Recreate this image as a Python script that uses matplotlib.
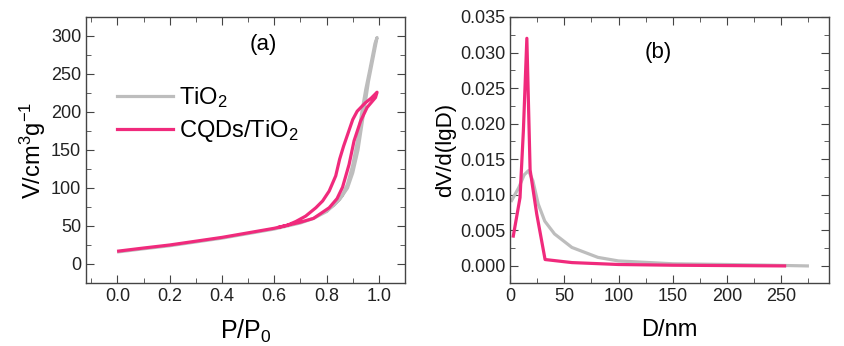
import matplotlib
matplotlib.use('Agg')
import matplotlib.pyplot as plt
from matplotlib.ticker import MultipleLocator

plt.rcParams['font.family'] = ['Liberation Sans', 'DejaVu Sans']
plt.rcParams['mathtext.fontset'] = 'custom'
plt.rcParams['mathtext.rm'] = 'Liberation Sans'
plt.rcParams['mathtext.it'] = 'Liberation Sans:italic'

# (a) N2 isotherms: adsorption branch then desorption branch
tio2_p = [0.005, 0.1, 0.2, 0.3, 0.4, 0.5, 0.6, 0.7, 0.75, 0.8, 0.85, 0.88, 0.9, 0.92, 0.94, 0.96, 0.98, 0.993,
          0.985, 0.965, 0.95, 0.935, 0.92, 0.9, 0.88, 0.86, 0.83, 0.8]
tio2_v = [16, 20, 24, 29, 34, 40, 46, 54, 60, 69, 85, 100, 120, 150, 195, 240, 275, 298,
          290, 255, 230, 200, 165, 130, 105, 90, 78, 70]
cqd_p = [0.005, 0.1, 0.2, 0.3, 0.4, 0.5, 0.6, 0.7, 0.75, 0.81, 0.84, 0.861, 0.886, 0.905, 0.93, 0.955, 0.987, 0.993,
         0.97, 0.948, 0.917, 0.9, 0.88, 0.865, 0.85, 0.835, 0.81, 0.785, 0.759, 0.72, 0.683, 0.65, 0.62]
cqd_v = [17, 21, 25, 30, 35, 41, 47, 55, 60, 74, 86, 101, 131, 162, 188, 206, 219, 226,
         218, 212, 201, 190, 170, 155, 138, 116, 96, 83, 74, 63, 56, 51, 48.5]

# (b) pore size distribution
tio2_d = [1.5, 8, 13, 17, 21, 26, 32, 41, 57, 81, 100, 150, 200, 240, 274]
tio2_dv = [0.0092, 0.0110, 0.0128, 0.0134, 0.0120, 0.0087, 0.0063, 0.0045, 0.0026, 0.0012, 0.0007,
           0.0003, 0.0002, 0.0001, 0.0]
cqd_d = [3, 9.2, 12.3, 15.5, 18.5, 24.6, 32.3, 57, 100, 150, 200, 253]
cqd_dv = [0.0042, 0.0096, 0.0190, 0.0320, 0.0135, 0.0073, 0.0009, 0.00047, 0.0002, 0.0001, 0.00005, 0.0]

gray = '#bdbdbd'
pink = '#f02a7c'


def style(ax):
    for s in ax.spines.values():
        s.set_color('#444444')
        s.set_linewidth(1.0)
    ax.tick_params(which='both', direction='in', top=True, right=True, colors='#444444',
                   labelcolor='#222222', labelsize=13)
    ax.tick_params(which='major', length=6)
    ax.tick_params(which='minor', length=3.5)


fig = plt.figure(figsize=(8.44, 3.46), dpi=100)
ax1 = fig.add_axes([0.1019, 0.1821, 0.378, 0.7688])
ax2 = fig.add_axes([0.6043, 0.1821, 0.378, 0.7688])

ax1.plot(tio2_p, tio2_v, color=gray, lw=2.3, label='TiO$_2$')
ax1.plot(cqd_p, cqd_v, color=pink, lw=2.3, label='CQDs/TiO$_2$')
ax1.set_xlim(-0.12, 1.1)
ax1.set_ylim(-25, 325)
ax1.xaxis.set_minor_locator(MultipleLocator(0.1))
ax1.yaxis.set_minor_locator(MultipleLocator(25))
ax1.set_xticks([0.0, 0.2, 0.4, 0.6, 0.8, 1.0])
ax1.set_xticklabels(['0.0', '0.2', '0.4', '0.6', '0.8', '1.0'])
ax1.set_yticks([0, 50, 100, 150, 200, 250, 300])
style(ax1)
ax1.set_xlabel('P/P$_0$', fontsize=18, labelpad=9)
ax1.set_ylabel('V/cm$^3$g$^{-1}$', fontsize=17, labelpad=2)
ax1.text(0.555, 0.895, '(a)', transform=ax1.transAxes, fontsize=16, ha='center', va='center')
ax1.legend(loc='upper left', bbox_to_anchor=(0.03, 0.825), frameon=False, fontsize=17,
           handlelength=2.4, handletextpad=0.25, labelspacing=0.35)

ax2.plot(tio2_d, tio2_dv, color=gray, lw=2.3)
ax2.plot(cqd_d, cqd_dv, color=pink, lw=2.3)
ax2.xaxis.set_minor_locator(MultipleLocator(25))
ax2.yaxis.set_minor_locator(MultipleLocator(0.0025))
ax2.set_yticks([0.0, 0.005, 0.01, 0.015, 0.02, 0.025, 0.03, 0.035])
ax2.set_yticklabels(['0.000', '0.005', '0.010', '0.015', '0.020', '0.025', '0.030', '0.035'])
ax2.set_xticks([0, 50, 100, 150, 200, 250, 300])
ax2.set_xticklabels(['0', '50', '100', '150', '200', '250', '300'])
ax2.set_xlim(0, 294)
ax2.set_ylim(-0.0024, 0.035)
style(ax2)
ax2.set_xlabel('D/nm', fontsize=17, labelpad=10)
ax2.set_ylabel('dV/d(lgD)', fontsize=16, labelpad=3)
ax2.text(0.464, 0.868, '(b)', transform=ax2.transAxes, fontsize=16, ha='center', va='center')

fig.savefig('out.png', dpi=100)
